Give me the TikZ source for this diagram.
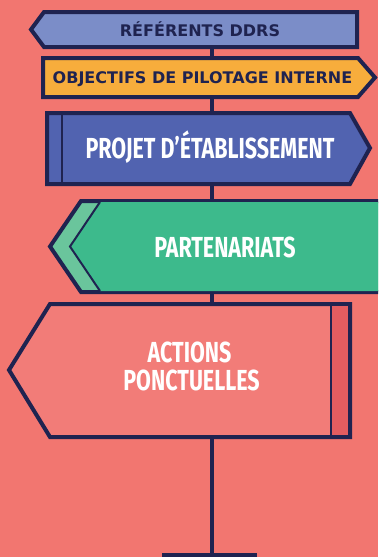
\documentclass[tikz,border=0pt]{standalone}
\usepackage{fontspec}
\setmainfont{Fira Sans}
\newfontfamily\condfont[FakeStretch=0.74]{Fira Sans}
\newfontfamily\widefont{DejaVu Sans}
\definecolor{bg}{HTML}{F27670}
\definecolor{navy}{HTML}{1F2350}
\definecolor{signA}{HTML}{7B8DC8}
\definecolor{signB}{HTML}{F7AD3C}
\definecolor{signC}{HTML}{5163B0}
\definecolor{signD}{HTML}{3DBA8C}
\definecolor{signDs}{HTML}{6AC59C}
\definecolor{signE}{HTML}{F27C78}
\definecolor{signEs}{HTML}{E35D60}
\tikzset{
  board/.style={draw=navy, line width=4pt, line join=miter},
  inner/.style={draw=navy, line width=2pt},
  smalltxt/.style={text=navy, font=\widefont\bfseries\fontsize{16}{18}\selectfont, inner sep=0pt, anchor=base},
  bigtxt/.style={text=white, font=\condfont\bfseries\fontsize{29}{26}\selectfont, inner sep=0pt, anchor=base},
}
\begin{document}
\begin{tikzpicture}[x=1pt,y=-1pt]
\useasboundingbox (0,0) rectangle (378,557);
\fill[bg] (0,0) rectangle (378,557);
\begin{scope}
\clip (0,0) rectangle (378,557);
% pole
\coordinate (poletop) at (212,30);
\coordinate (polebot) at (212,555);
\draw[navy, line width=4pt] (poletop) -- (polebot);
\fill[navy] (162,553) rectangle (257,557);
% sign 1
\draw[board, fill=signA] (44,12) -- (357,12) -- (357,47) -- (44,47) -- (31,29.5) -- cycle;
\node[smalltxt] (t1) at (200,36.5) {RÉFÉRENTS DDRS};
% sign 2
\draw[board, fill=signB] (43,58) -- (358,58) -- (375,77.5) -- (358,97) -- (43,97) -- cycle;
\node[smalltxt] (t2) at (202.5,83.5) {OBJECTIFS DE PILOTAGE INTERNE};
% sign 3
\draw[board, fill=signC] (47,113) -- (350,113) -- (370,148) -- (350,184) -- (47,184) -- cycle;
\draw[inner] (62,113) -- (62,184);
\node[bigtxt] (t3) at (210,158) {PROJET D’ÉTABLISSEMENT};
% sign 4
\draw[board, fill=signDs] (81,201) -- (395,201) -- (395,292) -- (81,292) -- (50,246.5) -- cycle;
\fill[signD] (100,202) -- (393,202) -- (393,291) -- (100,291) -- (70,246.5) -- cycle;
\draw[inner] (100,202) -- (70,246.5) -- (100,291);
\node[bigtxt] (t4) at (225,257) {PARTENARIATS};
% sign 5
\draw[board, fill=signE] (50,304) -- (350,304) -- (350,437) -- (50,437) -- (9,370) -- cycle;
\fill[signEs] (331,306) rectangle (348,435);
\draw[inner] (331,304) -- (331,437);
\node[bigtxt] (t5a) at (189.5,362) {ACTIONS};
\node[bigtxt] (t5b) at (191.5,390) {PONCTUELLES};
\end{scope}
\end{tikzpicture}
\end{document}
